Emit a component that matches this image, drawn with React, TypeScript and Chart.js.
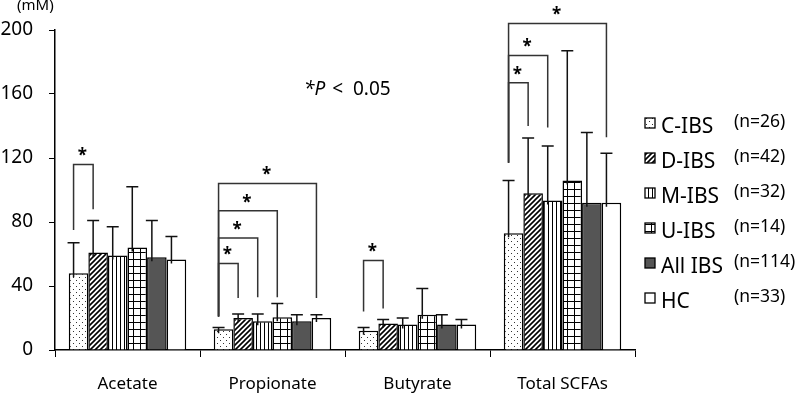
import { useEffect, useRef } from 'react';
import { Chart, registerables } from 'chart.js';
Chart.register(...registerables);

const categories = ['Acetate', 'Propionate', 'Butyrate', 'Total SCFAs'];
const groups = ['C-IBS', 'D-IBS', 'M-IBS', 'U-IBS', 'All IBS', 'HC'];
const groupN = ['(n=26)', '(n=42)', '(n=32)', '(n=14)', '(n=114)', '(n=33)'];
const yTicks = [0, 40, 80, 120, 160, 200];

const meanCIBS = [48, 13, 12, 73];
const meanDIBS = [61, 20, 16.5, 98];
const meanMIBS = [59, 18, 16, 93.5];
const meanUIBS = [64, 20.5, 22, 106];
const meanAllIBS = [58, 18, 16, 92];
const meanHC = [56.5, 20, 16, 92];

const sdCIBS = [19, 1, 2, 33];
const sdDIBS = [20, 2.5, 2.5, 34.5];
const sdMIBS = [18, 4.5, 4, 34];
const sdUIBS = [38, 8.5, 16.5, 81];
const sdAllIBS = [23, 4, 6, 44];
const sdHC = [14.5, 2, 3, 31];

// significance brackets: category index, target group index, top value, left leg bottom, right leg bottom
const bracketCat = [0, 1, 1, 1, 1, 2, 3, 3, 3];
const bracketTo = [1, 1, 2, 3, 5, 1, 1, 2, 5];
const bracketTop = [116, 54, 70, 87, 104, 56, 167, 184, 204];
const bracketLeftBottom = [75, 21, 21, 21, 21, 24, 117, 117, 117];
const bracketRightBottom = [88, 32.5, 33, 33, 32.5, 26, 140, 139, 133];

const means = [meanCIBS, meanDIBS, meanMIBS, meanUIBS, meanAllIBS, meanHC];
const sds = [sdCIBS, sdDIBS, sdMIBS, sdUIBS, sdAllIBS, sdHC];
const patternKinds = ['dots', 'diag', 'vert', 'grid', 'gray', 'white'];

const FONT = '"Noto Sans", "Open Sans", sans-serif';

function makePattern(ctx: CanvasRenderingContext2D, kind: string): any {
  if (kind === 'gray') return '#555555';
  if (kind === 'white') return '#ffffff';
  const c = document.createElement('canvas');
  let s = 6;
  if (kind === 'diag') s = 5;
  if (kind === 'vert') s = 4;
  if (kind === 'grid') s = 7;
  c.width = s;
  c.height = s;
  const g = c.getContext('2d')!;
  g.fillStyle = '#fff';
  g.fillRect(0, 0, s, s);
  g.fillStyle = '#000';
  g.strokeStyle = '#000';
  if (kind === 'dots') {
    g.fillStyle = '#333';
    g.fillRect(1, 1, 1, 1);
    g.fillRect(4, 4, 1, 1);
  } else if (kind === 'diag') {
    g.lineWidth = 1.6;
    g.beginPath();
    g.moveTo(-1, s + 1);
    g.lineTo(s + 1, -1);
    g.moveTo(-2, 2);
    g.lineTo(2, -2);
    g.moveTo(s - 2, s + 2);
    g.lineTo(s + 2, s - 2);
    g.stroke();
  } else if (kind === 'vert') {
    g.fillRect(0, 0, 1, s);
  } else if (kind === 'grid') {
    g.fillRect(0, 0, 1, s);
    g.fillRect(0, 0, s, 1);
  }
  return ctx.createPattern(c, 'repeat');
}

export default function App() {
  const ref = useRef<HTMLCanvasElement>(null);
  useEffect(() => {
    document.body.style.margin = '0';
    const canvas = ref.current!;
    const ctx = canvas.getContext('2d')!;
    const patterns = patternKinds.map((k) => makePattern(ctx, k));

    const overlay = {
      id: 'overlay',
      afterDatasetsDraw(chart: any) {
        const c = chart.ctx as CanvasRenderingContext2D;
        const y = chart.scales.y;
        const legX = (gi: number, ci: number) => {
          const el = chart.getDatasetMeta(gi).data[ci];
          return el.x - 5;
        };
        c.save();
        // error bars
        c.strokeStyle = '#111';
        c.lineWidth = 1.5;
        for (let gi = 0; gi < groups.length; gi++) {
          for (let ci = 0; ci < categories.length; ci++) {
            const x = legX(gi, ci);
            const yTop = y.getPixelForValue(means[gi][ci] + sds[gi][ci]);
            const yBar = y.getPixelForValue(means[gi][ci]) + 4;
            c.beginPath();
            c.moveTo(x, yBar);
            c.lineTo(x, yTop);
            c.moveTo(x - 6, yTop);
            c.lineTo(x + 6, yTop);
            c.stroke();
          }
        }
        // brackets
        c.strokeStyle = '#333';
        c.lineWidth = 1.5;
        c.fillStyle = '#000';
        c.font = `bold 17px ${FONT}`;
        c.textAlign = 'center';
        c.textBaseline = 'middle';
        for (let i = 0; i < bracketCat.length; i++) {
          const ci = bracketCat[i];
          const x1 = legX(0, ci);
          const x2 = legX(bracketTo[i], ci);
          const yt = y.getPixelForValue(bracketTop[i]);
          const yl = y.getPixelForValue(bracketLeftBottom[i]);
          const yr = y.getPixelForValue(bracketRightBottom[i]);
          c.beginPath();
          c.moveTo(x1, yl);
          c.lineTo(x1, yt);
          c.lineTo(x2, yt);
          c.lineTo(x2, yr);
          c.stroke();
          const sx = (x1 + x2) / 2 - 1;
          c.fillText('*', sx, yt - 8);
        }
        c.restore();
      },
      afterDraw(chart: any) {
        const c = chart.ctx as CanvasRenderingContext2D;
        c.save();
        c.fillStyle = '#000';
        c.textBaseline = 'middle';
        // unit
        c.font = `15px ${FONT}`;
        c.textAlign = 'left';
        c.fillText('(mM)', 17, 6);
        // p-value note
        c.font = `italic 19px ${FONT}`;
        c.fillText('*P', 304, 90);
        const w = c.measureText('*P').width;
        c.font = `19px ${FONT}`;
        c.fillText(' <  0.05', 304 + w + 2, 90);
        // legend
        for (let i = 0; i < groups.length; i++) {
          const yy = 123 + i * 35;
          const p = patterns[i];
          c.fillStyle = p;
          c.fillRect(645, yy - 5, 10, 10);
          c.strokeStyle = '#000';
          c.lineWidth = 1.3;
          c.strokeRect(645, yy - 5, 10, 10);
          c.fillStyle = '#000';
          c.font = `21px ${FONT}`;
          c.fillText(groups[i], 661, yy + 4);
          c.font = `17.5px ${FONT}`;
          c.fillText(groupN[i], 734, yy - 1);
        }
        c.restore();
      },
    };

    const chart = new Chart(canvas, {
      type: 'bar',
      data: {
        labels: categories,
        datasets: groups.map((g, i) => ({
          label: g,
          data: means[i],
          backgroundColor: patterns[i],
          borderColor: '#000',
          borderWidth: 1.5,
          barPercentage: 1,
          categoryPercentage: 0.81,
        })),
      },
      options: {
        responsive: false,
        animation: false,
        layout: { padding: { top: 30, right: 165, left: 0, bottom: 0 } },
        plugins: { legend: { display: false }, tooltip: { enabled: false } },
        scales: {
          x: {
            grid: { drawOnChartArea: false, drawTicks: true, tickLength: 7, color: '#000', offset: true },
            border: { color: '#000', width: 1.5 },
            ticks: { color: '#000', font: { family: FONT, size: 17 }, padding: 17 },
            afterFit: (s: any) => {
              s.height = 52;
            },
          },
          y: {
            min: 0,
            max: 200,
            afterBuildTicks: (s: any) => {
              s.ticks = yTicks.map((v) => ({ value: v }));
            },
            grid: { drawOnChartArea: false, drawTicks: true, tickLength: 6, color: '#000' },
            border: { color: '#000', width: 1.5 },
            ticks: { color: '#000', font: { family: FONT, size: 19 }, padding: 16 },
            afterFit: (s: any) => {
              s.width = 55;
            },
          },
        },
      },
      plugins: [overlay],
    });
    return () => chart.destroy();
  }, []);
  return <canvas ref={ref} width={800} height={402} style={{ display: 'block' }} />;
}
